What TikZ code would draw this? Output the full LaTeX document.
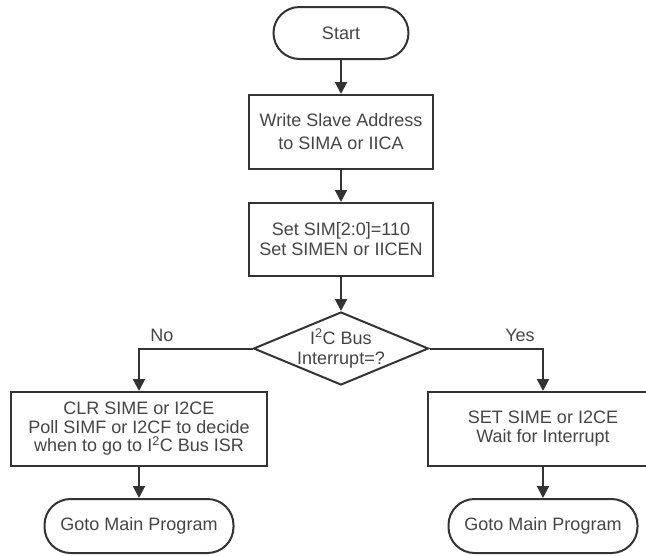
\documentclass[tikz,border=0pt]{standalone}
\usepackage{fontspec}
\setmainfont{Liberation Sans}
\usetikzlibrary{shapes.geometric,arrows.meta}
\definecolor{ln}{HTML}{333333}
\definecolor{tx}{HTML}{454545}
\begin{document}
\begin{tikzpicture}[x=1pt,y=-1pt,
  every node/.style={font=\fontsize{18}{23}\selectfont, text=tx},
  proc/.style={draw=ln, line width=2pt, rectangle, inner sep=0pt, align=center},
  term/.style={draw=ln, line width=2pt, rectangle, rounded corners=26pt, inner sep=0pt},
  dec/.style={draw=ln, line width=2pt, diamond, inner sep=0pt, minimum width=175pt, minimum height=73pt},
  arr/.style={draw=ln, line width=2pt, -{Triangle[width=12pt,length=12pt]}},
  lbl/.style={inner sep=0pt},
]
\useasboundingbox (0,0) rectangle (646,555);
\node[term, minimum width=135pt, minimum height=52pt] (start) at (341,33) {Start};
\node[proc, minimum width=184pt, minimum height=74pt] (b1) at (341,132) {Write Slave Address\\to SIMA or IICA};
\node[proc, minimum width=184pt, minimum height=73pt, font=\fontsize{18}{20}\selectfont] (b2) at (341,239.5) {Set SIM[2:0]=110\\Set SIMEN or IICEN};
\node[dec] (d) at (341,348.5) {};
\node[lbl, align=center, font=\fontsize{18}{20}\selectfont] (dt) at (d) {I\textsuperscript{2}C Bus\\Interrupt=?};
\node[proc, minimum width=256pt, minimum height=74pt, font=\fontsize{18}{18.5}\selectfont] (lb) at (139,429) {CLR SIME or I2CE\\Poll SIMF or I2CF to decide\\when to go to I\textsuperscript{2}C Bus ISR};
\node[proc, minimum width=230pt, minimum height=74pt, font=\fontsize{18}{19}\selectfont] (rb) at (543,429) {SET SIME or I2CE\\Wait for Interrupt};
\node[term, minimum width=189pt, minimum height=54pt] (lt) at (139,526) {Goto Main Program};
\node[term, minimum width=189pt, minimum height=54pt] (rt) at (543,526) {Goto Main Program};
\node[lbl] (no) at (162,335) {No};
\node[lbl] (yes) at (520,335) {Yes};
\draw[arr] (start) -- (b1);
\draw[arr] (b1) -- (b2);
\draw[arr] (b2) -- (d);
\draw[arr] (d.west) -| (lb.north);
\draw[arr] (d.east) -| (rb.north);
\draw[arr] (lb) -- (lt);
\draw[arr] (rb) -- (rt);
\end{tikzpicture}
\end{document}
